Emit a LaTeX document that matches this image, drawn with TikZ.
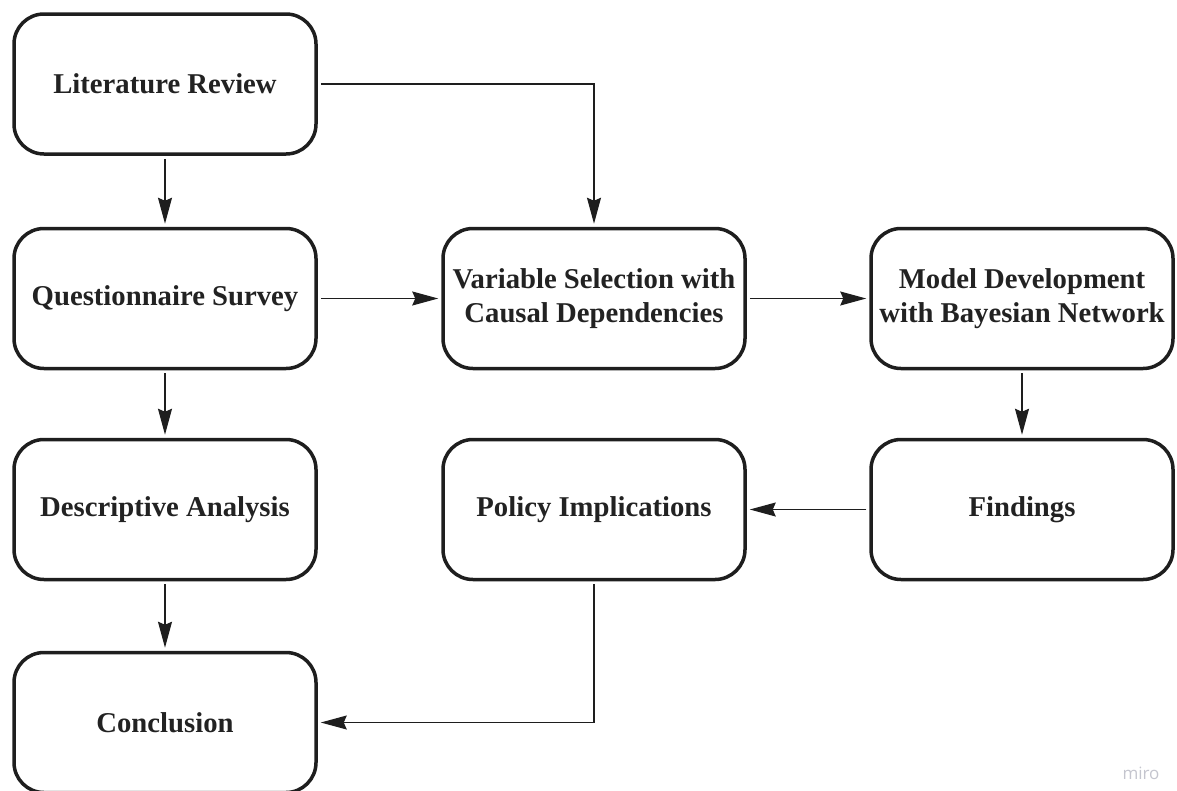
\documentclass[tikz,border=0pt]{standalone}
\usepackage{fontspec}
\setmainfont{Liberation Serif}
\newfontfamily\markfont{Open Sans}
\usetikzlibrary{arrows.meta}
\definecolor{ink}{HTML}{1E1E1E}
\definecolor{textink}{HTML}{222222}
\definecolor{markgrey}{HTML}{C4C5CE}
\begin{document}
\begin{tikzpicture}[x=1pt,y=-1pt,
  stage/.style={draw=ink, line width=3.5pt, rounded corners=30pt,
    minimum width=302pt, minimum height=140pt, align=center,
    text=textink, font=\fontsize{28.7}{34}\selectfont\bfseries},
  flow/.style={draw=ink, line width=1.4pt,
    -{Stealth[length=26pt,width=14pt,inset=3pt]},
    shorten <=3pt, shorten >=3pt}]
\useasboundingbox (0,0) rectangle (1177,790);
\clip (0,0) rectangle (1177,790);

% left column
\node[stage] (lit)  at (165,84)  {Literature Review};
\node[stage] (que)  at (165,298.5) {Questionnaire Survey};
\node[stage] (des)  at (165,509.5) {Descriptive Analysis};
\node[stage] (con)  at (165,722.5) {Conclusion};
% middle column
\node[stage] (var)  at (594,298.5) {Variable Selection with\\Causal Dependencies};
\node[stage] (pol)  at (594,509.5) {Policy Implications};
% right column
\node[stage] (mod)  at (1022,298.5) {Model Development\\with Bayesian Network};
\node[stage] (fin)  at (1022,509.5) {Findings};

% connectors
\draw[flow] (lit) -- (que);
\draw[flow] (lit.east) -| (var.north);
\draw[flow] (que) -- (var);
\draw[flow] (var) -- (mod);
\draw[flow] (que) -- (des);
\draw[flow] (mod) -- (fin);
\draw[flow] (fin) -- (pol);
\draw[flow] (des) -- (con);
\draw[flow] (pol.south) |- (con.east);

% watermark
\node[text=markgrey, font=\markfont\fontsize{17}{20}\selectfont, anchor=base] (mark) at (1141,779) {miro};
\end{tikzpicture}
\end{document}
